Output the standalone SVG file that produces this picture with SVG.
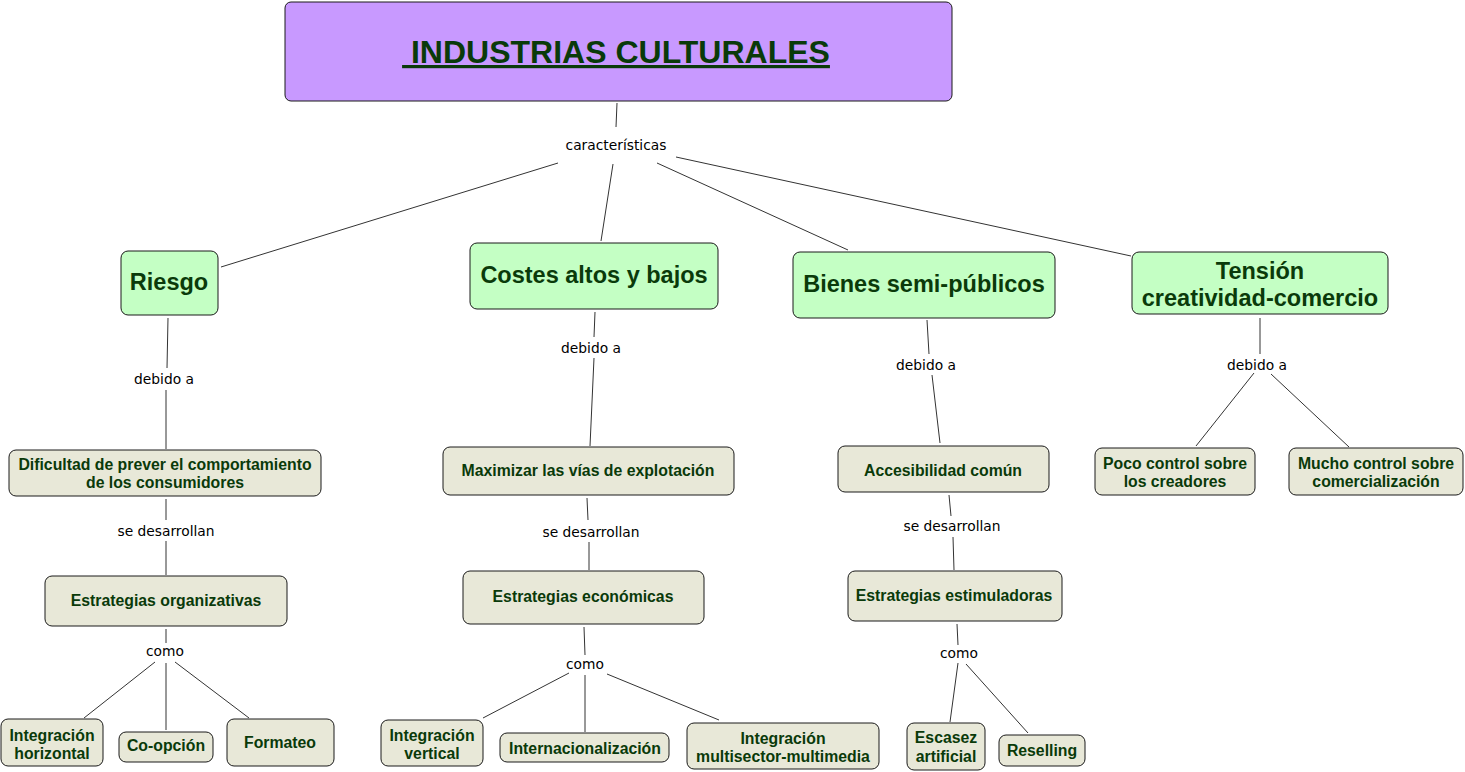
<svg xmlns="http://www.w3.org/2000/svg" width="1465" height="772" viewBox="0 0 1465 772">
<style>
.n rect{stroke:#1a1a1a;stroke-width:1}
.g rect{fill:#c4ffc4}
.b rect{fill:#e8e8d8}
.n text{font-family:"Liberation Sans",Arial,sans-serif;font-weight:bold;fill:#0a3a0a;text-anchor:middle}
.g text{font-size:23.5px}
.b text{font-size:15.8px}
.lbl{font-family:"DejaVu Sans",Verdana,sans-serif;font-size:13.8px;fill:#000;text-anchor:middle}
#connectors line{stroke:#333;stroke-width:1}
</style>
<rect width="1465" height="772" fill="#fff"/>
<g id="connectors">
<line x1="617" y1="103" x2="616" y2="127"/>
<line x1="558" y1="163" x2="221" y2="267"/>
<line x1="613" y1="164" x2="601" y2="241"/>
<line x1="657" y1="163" x2="848" y2="250"/>
<line x1="676" y1="157" x2="1131" y2="256"/>
<line x1="168" y1="318" x2="167" y2="368"/>
<line x1="166" y1="390" x2="166" y2="449"/>
<line x1="166" y1="499" x2="166" y2="520"/>
<line x1="166" y1="541" x2="166" y2="575"/>
<line x1="166" y1="629" x2="166" y2="643"/>
<line x1="155" y1="662" x2="84" y2="718"/>
<line x1="166" y1="663" x2="166" y2="730"/>
<line x1="175" y1="662" x2="249" y2="718"/>
<line x1="595" y1="312" x2="594" y2="337"/>
<line x1="594" y1="358" x2="590" y2="446"/>
<line x1="587" y1="498" x2="588" y2="520"/>
<line x1="589" y1="542" x2="589" y2="570"/>
<line x1="584" y1="627" x2="585" y2="655"/>
<line x1="569" y1="673" x2="483" y2="718"/>
<line x1="585" y1="675" x2="585" y2="732"/>
<line x1="607" y1="674" x2="719" y2="720"/>
<line x1="927" y1="320" x2="929" y2="354"/>
<line x1="932" y1="375" x2="940" y2="443"/>
<line x1="949" y1="495" x2="951" y2="516"/>
<line x1="953" y1="537" x2="954" y2="570"/>
<line x1="957" y1="624" x2="958" y2="645"/>
<line x1="958" y1="663" x2="950" y2="722"/>
<line x1="966" y1="664" x2="1028" y2="733"/>
<line x1="1260" y1="318" x2="1260" y2="354"/>
<line x1="1254" y1="373" x2="1196" y2="446"/>
<line x1="1271" y1="374" x2="1349" y2="447"/>
<text class="lbl" x="616" y="150">características</text>
<text class="lbl" x="164" y="384">debido a</text>
<text class="lbl" x="166" y="536">se desarrollan</text>
<text class="lbl" x="165" y="656">como</text>
<text class="lbl" x="591" y="353">debido a</text>
<text class="lbl" x="591" y="537">se desarrollan</text>
<text class="lbl" x="585" y="669">como</text>
<text class="lbl" x="926" y="370">debido a</text>
<text class="lbl" x="952" y="531">se desarrollan</text>
<text class="lbl" x="959" y="658">como</text>
<text class="lbl" x="1257" y="370">debido a</text>
</g>
<g id="title" class="n">
<rect x="285" y="2" width="667" height="99" rx="6" fill="#c899ff"/>
<text x="616" y="63" font-size="32" text-decoration="underline" xml:space="preserve"> INDUSTRIAS CULTURALES</text>
</g>
<g id="riesgo" class="n g"><rect x="121" y="251" width="97" height="64" rx="7"/><text x="169" y="290">Riesgo</text></g>
<g id="costes" class="n g"><rect x="470" y="243" width="248" height="66" rx="7"/><text x="594" y="283">Costes altos y bajos</text></g>
<g id="bienes" class="n g"><rect x="793" y="252" width="262" height="66" rx="7"/><text x="924" y="292">Bienes semi-públicos</text></g>
<g id="tension" class="n g"><rect x="1132" y="252" width="256" height="62" rx="7"/><text x="1260" y="279">Tensión</text><text x="1260" y="306">creatividad-comercio</text></g>
<g id="dificultad" class="n b"><rect x="9" y="450" width="312" height="46" rx="7"/><text x="165" y="470">Dificultad de prever el comportamiento</text><text x="165" y="488">de los consumidores</text></g>
<g id="maximizar" class="n b"><rect x="443" y="447" width="291" height="48" rx="7"/><text x="588" y="476">Maximizar las vías de explotación</text></g>
<g id="accesibilidad" class="n b"><rect x="838" y="446" width="211" height="46" rx="7"/><text x="943" y="476">Accesibilidad común</text></g>
<g id="poco" class="n b"><rect x="1095" y="448" width="160" height="47" rx="7"/><text x="1175" y="469">Poco control sobre</text><text x="1175" y="487">los creadores</text></g>
<g id="mucho" class="n b"><rect x="1289" y="448" width="174" height="47" rx="7"/><text x="1376" y="469">Mucho control sobre</text><text x="1376" y="487">comercialización</text></g>
<g id="organizativas" class="n b"><rect x="45" y="576" width="242" height="50" rx="7"/><text x="166" y="606">Estrategias organizativas</text></g>
<g id="economicas" class="n b"><rect x="463" y="571" width="241" height="53" rx="7"/><text x="583" y="602">Estrategias económicas</text></g>
<g id="estimuladoras" class="n b"><rect x="848" y="571" width="214" height="50" rx="7"/><text x="954" y="601">Estrategias estimuladoras</text></g>
<g id="horizontal" class="n b"><rect x="1" y="719" width="102" height="47" rx="7"/><text x="52" y="741">Integración</text><text x="52" y="759">horizontal</text></g>
<g id="coopcion" class="n b"><rect x="119" y="732" width="94" height="30" rx="7"/><text x="166" y="751">Co-opción</text></g>
<g id="formateo" class="n b"><rect x="227" y="719" width="107" height="47" rx="7"/><text x="280" y="748">Formateo</text></g>
<g id="vertical" class="n b"><rect x="381" y="720" width="102" height="46" rx="7"/><text x="432" y="741">Integración</text><text x="432" y="759">vertical</text></g>
<g id="internacionalizacion" class="n b"><rect x="500" y="733" width="169" height="29" rx="7"/><text x="585" y="754">Internacionalización</text></g>
<g id="multisector" class="n b"><rect x="687" y="723" width="192" height="46" rx="7"/><text x="783" y="744">Integración</text><text x="783" y="762">multisector-multimedia</text></g>
<g id="escasez" class="n b"><rect x="907" y="723" width="78" height="47" rx="7"/><text x="946" y="743">Escasez</text><text x="946" y="762">artificial</text></g>
<g id="reselling" class="n b"><rect x="999" y="735" width="86" height="31" rx="7"/><text x="1042" y="756">Reselling</text></g>
</svg>
